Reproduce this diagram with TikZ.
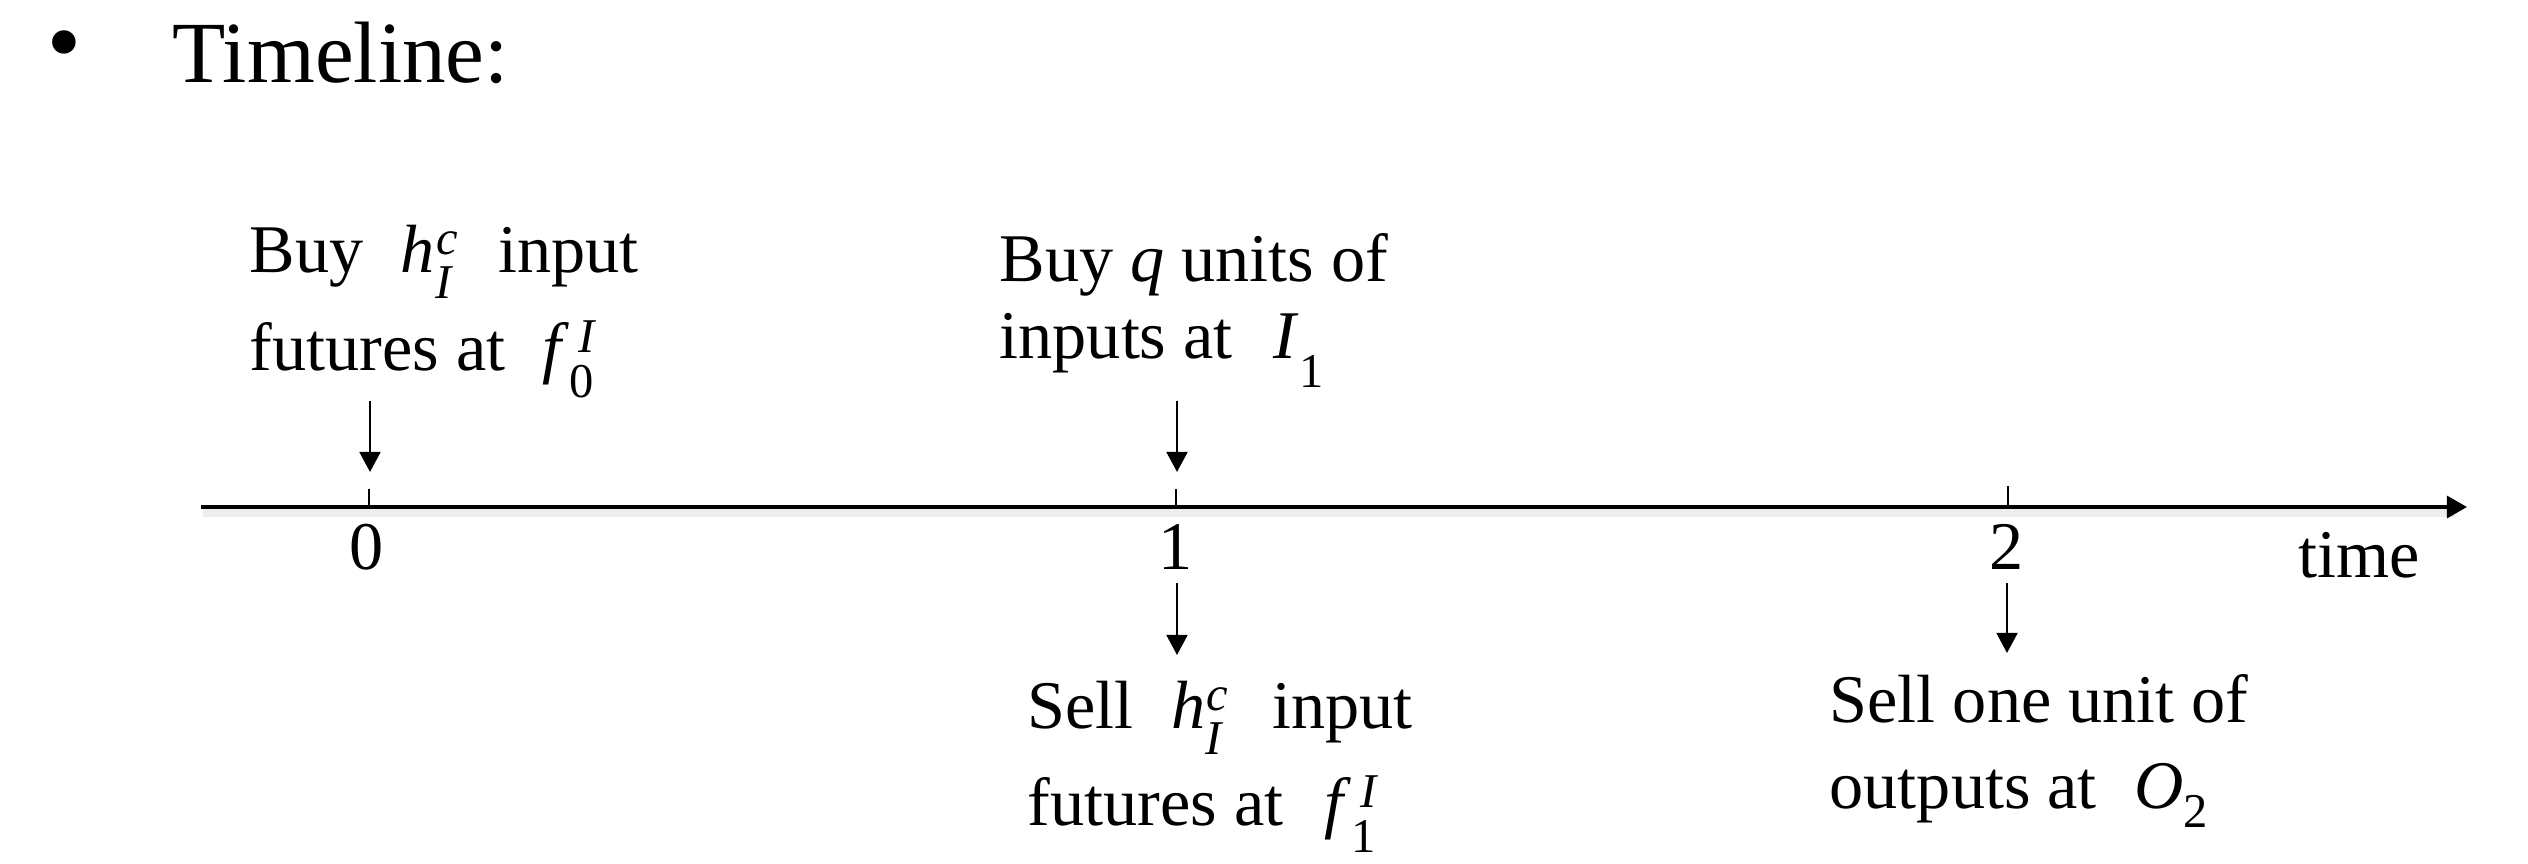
\documentclass[tikz,border=0pt]{standalone}
\usepackage{fontspec}
\setmainfont{Liberation Serif}
\newfontfamily\bulletfont{DejaVu Sans}
\usetikzlibrary{arrows.meta}
\newcommand{\scr}{\fontsize{13.8}{13.8}\selectfont}
% #1 sup, #2 sub, #3 extra kern of sup, #4 drop of sub
\newcommand{\SupSub}[4]{{\scr
  \setbox0=\hbox{\kern#3\raise5pt\hbox{\itshape #1}}%
  \setbox2=\hbox{\lower#4\hbox{\itshape #2}}%
  \ifdim\wd0>\wd2 \rlap{\box2}\box0 \else\rlap{\box0}\box2\fi}}
\newcommand{\SubOnly}[2]{{\scr\lower#2\hbox{#1}}}
\newcommand{\gap}{\hspace{0.55em}}
\tikzset{
  axisline/.style={line width=1pt, -{Triangle[length=5.7pt,width=6.2pt]}},
  tickline/.style={line width=0.8pt},
  evarrow/.style={line width=0.75pt, -{Triangle[length=5.7pt,width=5.9pt]}},
  shadowline/.style={line width=2.2pt, black!7},
  lab/.style={inner sep=0pt, anchor=base west, font=\fontsize{19.4}{23}\selectfont},
  ticklab/.style={inner sep=0pt, anchor=base, font=\fontsize{19.4}{23}\selectfont},
  titlefont/.style={inner sep=0pt, font=\fontsize{24.8}{29}\selectfont}
}
\begin{document}
\begin{tikzpicture}[x=0.01cm, y=-0.01cm]
\useasboundingbox (0,0) rectangle (2528,863);
% title
\node[inner sep=0pt, font=\bulletfont\fontsize{23}{25}\selectfont, anchor=center] (bullet) at (64,52) {•};
\node[titlefont, anchor=base west] (title) at (172,82) {Timeline:};
% axis
\coordinate (axL) at (201,507);
\coordinate (axR) at (2467,507);
\coordinate (axLs) at (203,513);
\coordinate (axRs) at (2455,513);
\draw[shadowline] (axLs) -- (axRs);
\draw[axisline] (axL) -- (axR);
% ticks
\coordinate (t0) at (369,507);  \coordinate (t0u) at (369,489);
\coordinate (t1) at (1176,507); \coordinate (t1u) at (1176,489);
\coordinate (t2) at (2008,507); \coordinate (t2u) at (2008,486);
\draw[tickline] (t0) -- (t0u);
\draw[tickline] (t1) -- (t1u);
\draw[tickline] (t2) -- (t2u);
\node[ticklab] (n0) at (367,569) {0};
\node[ticklab] (n1) at (1176,569) {1};
\node[ticklab] (n2) at (2007,569) {2};
\node[lab] (time) at (2298,577) {time};
% event arrows
\coordinate (aA) at (370,401); \coordinate (aAe) at (370,472);
\coordinate (aB) at (1177,401); \coordinate (aBe) at (1177,472);
\coordinate (aC) at (1177,583); \coordinate (aCe) at (1177,655);
\coordinate (aD) at (2007,583); \coordinate (aDe) at (2007,653);
\draw[evarrow] (aA) -- (aAe);
\draw[evarrow] (aB) -- (aBe);
\draw[evarrow] (aC) -- (aCe);
\draw[evarrow] (aD) -- (aDe);
% labels
\node[lab] (A1) at (249,272) {Buy\gap\textit{h}\SupSub{c}{I}{0.3pt}{7.4pt}\hspace{0.6em}input};
\node[lab] (A2) at (249,370) {futures at\gap\textit{f}\SupSub{I}{\upshape 0}{2.5pt}{7.7pt}};
\node[lab] (B1) at (999,281) {Buy \textit{q} units of};
\node[lab] (B2) at (999,358) {inputs at\hspace{0.6em}\textit{I}\SubOnly{1}{8.3pt}};
\node[lab] (C1) at (1027,728) {Sell\gap\textit{h}\SupSub{c}{I}{0.3pt}{7.4pt}\hspace{0.65em}input};
\node[lab] (C2) at (1027,825) {futures at\hspace{0.6em}\textit{f}\SupSub{I}{\upshape 1}{2.5pt}{7.7pt}};
\node[lab] (D1) at (1829,722) {Sell one unit of};
\node[lab] (D2) at (1829,808) {outputs at\gap\textit{O}\SubOnly{2}{5.4pt}};
\end{tikzpicture}
\end{document}
